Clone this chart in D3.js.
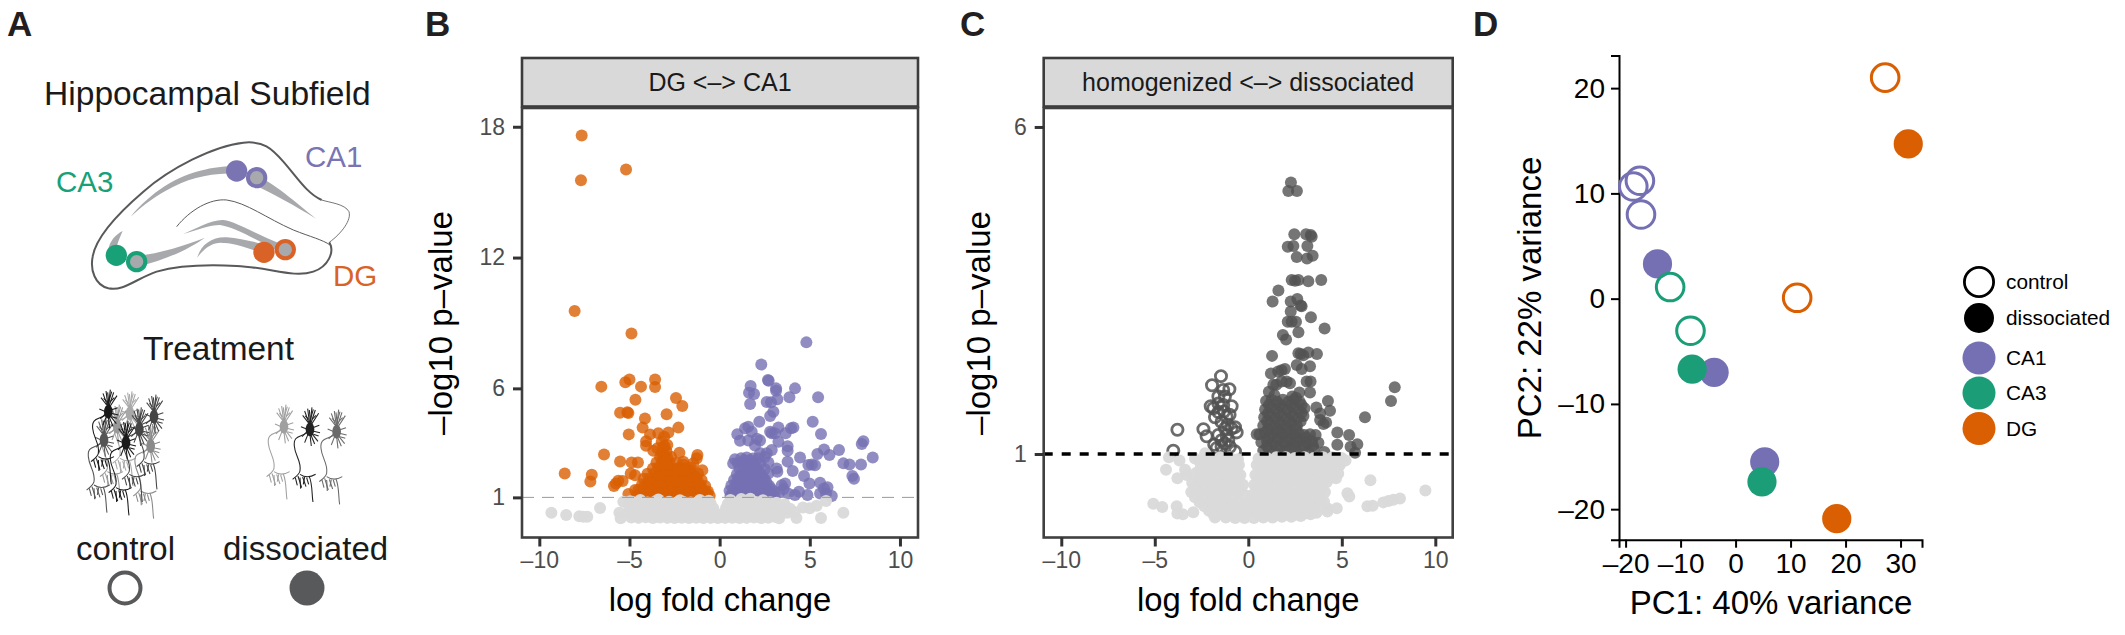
<!DOCTYPE html>
<html><head><meta charset="utf-8">
<script src="https://cdn.jsdelivr.net/npm/d3@7"></script>
<style>html,body{margin:0;padding:0;background:#fff}svg{display:block}text{font-family:"Liberation Sans",Arial,sans-serif}</style>
</head><body><svg id="c" width="2125" height="635"></svg>
<script>
// ---- Panel B values ----
const dgSparse=[[-7.65,17.6],[-7.69,15.55],[-5.19,16.04],[-8.04,9.55],[-4.89,8.52],[-5,6.41],[-5.23,6.28],[-6.56,6.08],[-4.36,6.08],[-3.58,6.41],[-3.58,6.06],[-4.67,5.48],[-2.42,5.56],[-2.07,5.19],[-5.52,4.88],[-5.12,4.91],[-5.06,4.87],[-2.94,4.81],[-4.14,4.62],[-4.27,4.2],[-2.29,4.2],[-5.04,3.89],[-2.84,3.98],[-3.86,3.89],[-3.4,3.94],[-3.08,3.78],[-4.08,3.57],[-4.08,3.37],[-3.21,3.55],[-3.12,3.32],[-3.68,3.14],[-3.45,3.25],[-3.21,3.02],[-6.41,2.97],[-5.52,2.65],[-2.23,3.05],[-1.23,2.94],[-1.27,2.79],[-4.88,2.6],[-4.53,2.6],[-8.59,2.1],[-7.09,2.04],[-7.17,1.73],[-0.96,2.25],[-1.46,2.56],[-2.01,2.64],[-5.62,1.76],[-5.38,1.75],[-5.86,1.52],[-5.75,1.64],[-4.93,2.1],[-4.69,2.02],[-5.06,1.15],[-4.69,1.34]];
const dgDense=[[-4.6,1.08],[-4.2,1.12],[-3.9,1.06],[-3.6,1.1],[-3.2,1.05],[-2.9,1.13],[-2.6,1.07],[-2.3,1.1],[-2,1.04],[-1.7,1.12],[-1.4,1.08],[-1.1,1.05],[-0.8,1.1],[-0.55,1.08],
[-4.5,1.35],[-4.1,1.38],[-3.8,1.32],[-3.4,1.36],[-3.1,1.3],[-2.7,1.38],[-2.4,1.33],[-2.1,1.37],[-1.8,1.31],[-1.5,1.36],[-1.2,1.33],[-0.9,1.3],[-0.65,1.27],
[-4.3,1.6],[-4,1.62],[-3.7,1.57],[-3.3,1.61],[-3,1.56],[-2.6,1.62],[-2.3,1.58],[-2,1.6],[-1.7,1.57],[-1.4,1.62],[-1.1,1.56],[-0.8,1.52],
[-4.2,1.85],[-3.9,1.87],[-3.5,1.82],[-3.2,1.86],[-2.9,1.83],[-2.5,1.87],[-2.2,1.82],[-1.9,1.86],[-1.6,1.83],[-1.3,1.87],[-1,1.8],
[-4,2.08],[-3.6,2.12],[-3.3,2.07],[-3,2.11],[-2.7,2.06],[-2.4,2.12],[-2.1,2.08],[-1.8,2.11],[-1.5,2.07],[-1.2,2.1],
[-3.7,2.33],[-3.4,2.37],[-3.1,2.32],[-2.8,2.36],[-2.5,2.33],[-2.2,2.37],[-1.9,2.33],[-1.6,2.36],
[-3.5,2.6],[-3.2,2.63],[-3,2.58],[-2.8,2.62],[-2.4,2.58],[-2,2.5],[-3.3,2.85],[-3.1,2.88],[-2.9,2.83],[-2.7,2.86],[-3.15,3.1],[-2.95,3.12],[-3.05,3.35],[-2.9,3.4],
[-4.4,1.2],[-4,1.25],[-3.7,1.2],[-3.3,1.22],[-3,1.45],[-2.8,1.2],[-2.5,1.22],[-2.2,1.22],[-1.9,1.2],[-1.6,1.22],[-1.3,1.2],[-1,1.2],[-0.7,1.18],
[-4.2,1.48],[-3.9,1.5],[-3.5,1.46],[-3.2,1.48],[-2.8,1.5],[-2.5,1.46],[-2.2,1.48],[-1.9,1.46],[-1.6,1.48],[-1.3,1.46],[-1,1.44],
[-3.8,1.72],[-3.4,1.74],[-3.1,1.72],[-2.7,1.75],[-2.4,1.72],[-2.1,1.74],[-1.8,1.72],[-1.5,1.74],[-1.2,1.72],
[-3.4,1.98],[-3.1,1.98],[-2.8,1.97],[-2.3,1.98],[-2,1.97],[-1.7,1.98],[-1.4,1.97],[-3,2.25],[-2.6,2.22],[-2.3,2.24],[-2,2.22],[-1.7,2.24],[-3.1,2.5],[-2.9,2.48],[-3,2.72]];
const ca1Sparse=[[4.81,8.11],[2.31,7.09],[2.68,6.38],[2.72,6.35],[1.72,6.11],[3.13,6],[3.13,5.89],[4.18,6],[1.63,5.8],[1.91,5.74],[3.87,5.59],[5.46,5.59],[3.2,5.5],[2.61,5.37],[2.85,5.36],[1.69,5.28],[2.98,4.93],[2.8,4.73],[5.16,4.47],[2.2,4.47],[5.62,3.91],[3.26,4.21],[4.09,4.21],[3.96,4.17],[3.66,3.94],[2.89,3.94],[2.8,4.01],[3.07,3.94],[3.26,3.55],[3.77,3.35],[3.77,3.14],[2.89,3.17],[2.61,3.02],[2.24,3.02],[7.97,3.58],[7.88,3.45],[6.62,3.17],[5.79,3.2],[5.42,2.99],[6.09,2.94],[4.46,2.83],[8.49,2.83],[3.77,2.64],[6.86,2.56],[7.2,2.51],[7.84,2.51],[4.92,2.48],[5.29,2.47],[5.11,2.51],[3.16,2.33],[3.2,2.18],[4.05,2.21],[4.68,1.98],[4.98,1.64],[7.36,1.98],[7.45,1.86],[5.57,1.67],[5.98,1.46],[5.79,1.41],[6.22,1.06],[5.9,1.18],[5.57,1.18],[4.4,1.26],[4.87,1.11],[4.18,1.11],[3.8,1.18],[3.63,1.64],[3.44,1.56],[0.98,3.9],[1.13,3.6],[1.41,4.17],[1.59,4.24],[1.78,4.01],[2.06,3.69],[2.24,3.61],[1.96,3.38],[1.59,3.61]];
const ca1Dense=[[0.6,1.08],[0.95,1.05],[1.3,1.1],[1.65,1.05],[2,1.09],[2.35,1.04],[2.7,1.1],[3.05,1.06],[0.55,1.3],[0.9,1.33],[1.25,1.28],[1.6,1.34],[1.95,1.29],[2.3,1.33],[2.65,1.3],[3,1.27],[3.3,1.22],[3.55,1.38],[0.65,1.55],[1,1.58],[1.35,1.53],[1.7,1.58],[2.05,1.54],[2.4,1.57],[2.75,1.52],
[0.8,1.8],[1.1,1.83],[1.45,1.78],[1.8,1.83],[2.15,1.79],[2.5,1.82],[0.95,2.05],[1.25,2.08],[1.6,2.03],[1.95,2.08],[2.3,2.04],[2.7,2.1],[1.1,2.3],[1.4,2.33],[1.75,2.28],[2.05,2.33],[2.5,2.3],[0.75,2.55],[1,2.58],[1.3,2.6],[1.6,2.56],[1.9,2.6],[2.25,2.56],[2.7,2.6],[0.85,2.75],[1.2,2.8],[1.5,2.83],[1.85,2.78],[2.15,2.8],[2.5,2.85],
[0.7,1.18],[1.1,1.2],[1.45,1.2],[1.8,1.18],[2.15,1.2],[2.5,1.18],[2.85,1.18],[0.8,1.42],[1.1,1.45],[1.45,1.42],[1.8,1.45],[2.15,1.42],[2.5,1.44],[2.85,1.4],[0.95,1.68],[1.25,1.7],[1.6,1.68],[1.95,1.7],[2.3,1.67],[2.6,1.68],[1.05,1.92],[1.35,1.95],[1.7,1.92],[2.05,1.95],[2.4,1.92],[1.25,2.18],[1.6,2.18],[1.9,2.2],[2.2,2.17],[1.4,2.45],[1.7,2.45],[2,2.45],[1.35,2.7],[1.7,2.7]];
const grayB=[[-9.33,0.3],[-8.51,0.19],[-7.78,0.14],[-7.56,0.11],[-7.34,0.11],[-6.63,0.51],[-5.56,0.3],[-5.49,0.04],[-5.34,0.8],[-4.97,0.82],[6.86,0.3],[5.62,0.05],[4.26,0.05],[5.9,0.83],[5,0.5],[5.38,0.62],[4.62,0.54],[3.3,0.04],
[-4.9,0.08],[-4.5,0.06],[-4.1,0.09],[-3.7,0.05],[-3.3,0.08],[-2.9,0.06],[-2.5,0.05],[-2.1,0.07],[-1.7,0.05],[-1.3,0.07],[-0.9,0.05],[-0.5,0.06],[-0.1,0.05],[0.3,0.06],[0.7,0.07],[1.1,0.05],[1.5,0.06],[1.9,0.08],[2.3,0.05],[2.7,0.07],[3.1,0.1],
[-5,0.32],[-4.6,0.3],[-4.2,0.34],[-3.8,0.29],[-3.4,0.33],[-3,0.3],[-2.6,0.32],[-2.2,0.3],[-1.8,0.33],[-1.4,0.29],[-1,0.32],[-0.6,0.3],[-0.25,0.27],[0.2,0.25],[0.55,0.3],[0.95,0.32],[1.35,0.29],[1.75,0.32],[2.15,0.3],[2.55,0.31],[2.95,0.27],[3.35,0.28],[3.75,0.3],[4.15,0.33],
[-5,0.55],[-4.6,0.58],[-4.2,0.53],[-3.8,0.57],[-3.4,0.54],[-3,0.56],[-2.6,0.53],[-2.2,0.57],[-1.8,0.55],[-1.4,0.53],[-1,0.57],[-0.6,0.54],[-0.35,0.5],[0.35,0.5],[0.7,0.55],[1.1,0.53],[1.5,0.57],[1.9,0.54],[2.3,0.56],[2.7,0.53],[3.1,0.52],[3.5,0.5],[3.9,0.48],
[-4.8,0.78],[-4.4,0.8],[-4,0.76],[-3.6,0.8],[-3.2,0.77],[-2.8,0.8],[-2.4,0.76],[-2,0.79],[-1.6,0.77],[-1.2,0.8],[-0.8,0.76],[-0.5,0.72],[0.45,0.7],[0.8,0.76],[1.2,0.8],[1.6,0.77],[2,0.79],[2.4,0.76],[2.8,0.78],[3.15,0.75],[3.6,0.68],
[-4.4,0.88],[-3.4,0.9],[-2.2,0.87],[-1.1,0.88],[-0.6,0.85],[0.6,0.88],[1.2,0.93],[1.7,0.94],[2.4,0.87],
[-4.7,0.2],[-4.3,0.18],[-3.9,0.2],[-3.5,0.18],[-3.1,0.19],[-2.7,0.18],[-2.3,0.2],[-1.9,0.18],[-1.5,0.19],[-1.1,0.18],[-0.7,0.19],[-0.3,0.17],[0.45,0.18],[0.85,0.19],[1.25,0.18],[1.65,0.19],[2.05,0.18],[2.45,0.19],[2.85,0.18],[3.25,0.2],
[-4.8,0.44],[-4.4,0.43],[-4,0.44],[-3.6,0.43],[-3.2,0.44],[-2.8,0.43],[-2.4,0.44],[-2,0.43],[-1.6,0.44],[-1.2,0.43],[-0.8,0.44],[-0.45,0.42],[0.45,0.41],[0.9,0.43],[1.3,0.44],[1.7,0.43],[2.1,0.44],[2.5,0.43],[2.9,0.42],[3.3,0.41],
[-4.6,0.67],[-4.2,0.67],[-3.8,0.68],[-3.4,0.67],[-3,0.68],[-2.6,0.67],[-2.2,0.68],[-1.8,0.67],[-1.4,0.68],[-1,0.67],[-0.65,0.65],[0.55,0.63],[1,0.66],[1.4,0.67],[1.8,0.66],[2.2,0.67],[2.6,0.66],[3,0.65]];
// ---- Panel C values ----
const upSparse=[[2.28,5.15],[2.14,5.02],[2.6,5.02],[2.46,4.36],[3.09,4.36],[3.34,4.35],[3.39,4.32],[2.11,4.17],[2.41,4.18],[3.16,4.18],[2.59,4.01],[3.14,3.99],[3.44,4.03],[2.32,3.66],[2.5,3.65],[2.68,3.66],[3.21,3.64],[3.9,3.66],[1.61,3.5],[1.3,3.33],[2.27,3.33],[2.62,3.37],[2.85,3.26],[2.8,3.27],[3.35,3.09],[2.27,3.18],[2.11,3.02],[2.32,3.02],[2.55,3.02],[4.08,2.92],[2.68,2.86],[1.85,2.82],[2.02,2.75],[1.27,2.5],[2.68,2.54],[2.94,2.51],[3.21,2.55],[3.67,2.53],[2.8,2.53],[2.59,2.36],[2.86,2.3],[3.3,2.34],[1.21,2.23],[1.78,2.28],[1.96,2.3],[1.6,2.26],[3.12,2.11],[3.33,2.11],[2.23,2.08],[2.05,2.11],[1.78,2.11],[1.34,2.06],[1.5,2.06],[7.83,2.02],[7.63,1.81],[6.24,1.56],[4.26,1.81],[3.64,1.71],[4.37,1.66],[3.84,1.62],[3.84,1.52],[4.16,1.48],[4.02,1.46],[4.76,1.33],[5.39,1.29],[4.76,1.14],[5.83,1.15],[5.47,1.11],[5.71,1.02],[4.07,1.03],[3.3,1.94],[2.73,1.94]];
const upDense=[[0.45,1.3],[0.8,1.05],[1.1,1.08],[1.4,1.04],[1.7,1.08],[2,1.05],[2.3,1.09],[2.6,1.05],[2.9,1.08],[3.2,1.04],[3.5,1.08],[0.7,1.18],[1,1.2],[1.3,1.17],[1.6,1.21],[1.9,1.18],[2.2,1.21],[2.5,1.18],[2.8,1.21],[3.1,1.18],[3.4,1.2],[3.75,1.17],[0.6,1.3],[0.9,1.33],[1.2,1.3],[1.5,1.33],[1.8,1.3],[2.1,1.33],[2.4,1.3],[2.7,1.32],[3,1.29],[3.3,1.3],[3.6,1.29],
[0.8,1.43],[1.1,1.46],[1.4,1.43],[1.7,1.46],[2,1.43],[2.3,1.46],[2.6,1.43],[0.85,1.56],[1.15,1.58],[1.45,1.55],[1.75,1.58],[2.05,1.55],[2.35,1.58],[2.65,1.55],[2.95,1.58],[0.9,1.68],[1.2,1.71],[1.5,1.68],[1.8,1.71],[2.1,1.68],[2.4,1.71],[2.7,1.68],[3,1.7],[0.95,1.81],[1.25,1.83],[1.55,1.8],[1.85,1.83],[2.15,1.8],[2.45,1.83],[2.75,1.8],
[1,1.12],[1.5,1.12],[2,1.12],[2.5,1.12],[3,1.12],[3.45,1.13],[1.05,1.25],[1.55,1.25],[2.05,1.25],[2.55,1.25],[3.05,1.25],[1.05,1.38],[1.55,1.38],[2.05,1.38],[2.55,1.38],[1,1.5],[1.6,1.5],[2.2,1.5],[2.8,1.5],[1.05,1.62],[1.65,1.63],[2.25,1.63],[2.85,1.63],[1.1,1.75],[1.7,1.75],[2.3,1.76],[2.85,1.75],[1.4,1.9],[1.1,1.95],[2.35,1.88],[2.55,1.86]];
const downHollow=[[-1.46,2.19],[-1.94,2.05],[-1.01,1.99],[-1.34,1.98],[-1.6,1.88],[-1.25,1.88],[-2.01,1.73],[-1.6,1.77],[-0.89,1.73],[-1.34,1.75],[-1.78,1.56],[-1.16,1.57],[-1.6,1.64],[-2.4,1.38],[-3.79,1.37],[-2.23,1.27],[-0.71,1.41],[-0.62,1.33],[-1.25,1.39],[-0.89,1.39],[-1.82,1.14],[-4.01,1.05],[-1.43,1.21],[-1.25,1.16],[-1.07,1.21],[-0.71,1.04],[-1.69,1.09],[-0.98,1.11],[-1.87,1.7],[-1.43,1.49],[-1.16,1.29],[-1.6,1.29],[-1.43,1.11],[-1.1,1.45],[-1.3,1.65],[-1,1.6]];
const grayC=[[6.53,0.6],[9.47,0.44],[5.3,0.4],[5.4,0.35],[6.37,0.2],[6.65,0.21],[7.22,0.26],[7.49,0.28],[7.76,0.3],[8.11,0.32],[4.23,0.17],[4.73,0.17],[4.23,0.12],[3.33,0.08],[3.65,0.1],[4.81,0.7],[4.69,0.63],[4.9,0.83],[-4.4,0.76],[-4.24,0.95],[-3.68,0.9],[-3.79,0.63],[-3.29,0.68],[-3.38,0.76],[-5.08,0.24],[-4.6,0.19],[-3.83,0.2],[-3.79,0.09],[-3.5,0.08],[-2.94,0.11],[-1.78,0.03],[-2.85,0.93],[-2.31,1.01],[-2.6,0.88],
[-1.2,0.03],[-0.7,0.02],[-0.2,0.02],[0.3,0.02],[0.8,0.03],[1.3,0.03],[1.8,0.04],[2.3,0.04],[2.8,0.05],
[-2.1,0.13],[-1.6,0.12],[-1.1,0.14],[-0.6,0.12],[-0.1,0.14],[0.1,0.14],[0.5,0.12],[1,0.14],[1.5,0.12],[2,0.14],[2.5,0.12],[3,0.14],[3.5,0.16],
[-2.6,0.26],[-2.1,0.28],[-1.6,0.25],[-1.1,0.28],[-0.55,0.26],[-0.12,0.24],[0.15,0.24],[0.6,0.26],[1.1,0.28],[1.6,0.25],[2.1,0.28],[2.6,0.25],[3.1,0.28],[3.6,0.26],[4.05,0.27],
[-3.05,0.42],[-2.6,0.41],[-2.1,0.43],[-1.6,0.4],[-1.1,0.43],[-0.55,0.41],[-0.22,0.38],[0.25,0.38],[0.6,0.41],[1.1,0.43],[1.6,0.4],[2.1,0.43],[2.6,0.4],[3.1,0.43],[3.6,0.41],[4.1,0.42],
[-3,0.56],[-2.6,0.56],[-2.1,0.57],[-1.6,0.55],[-1.1,0.57],[-0.6,0.55],[-0.28,0.53],[0.32,0.53],[0.7,0.55],[1.2,0.57],[1.7,0.55],[2.2,0.57],[2.7,0.55],[3.2,0.57],[3.7,0.55],[4.2,0.57],
[-2.8,0.71],[-2.3,0.7],[-1.8,0.72],[-1.3,0.7],[-0.8,0.72],[-0.42,0.68],[0.38,0.68],[0.8,0.7],[1.3,0.72],[1.8,0.7],[2.3,0.72],[2.8,0.7],[3.3,0.72],[3.8,0.7],[4.3,0.72],
[-2.4,0.85],[-1.9,0.84],[-1.4,0.86],[-0.9,0.84],[-0.5,0.83],[0.45,0.83],[0.9,0.84],[1.4,0.86],[1.9,0.84],[2.4,0.86],[2.9,0.84],[3.4,0.86],[3.9,0.84],[4.4,0.86],[4.8,0.85],
[-2.1,0.94],[-1.5,0.95],[-1,0.95],[-0.55,0.92],[0.55,0.93],[1,0.94],[1.5,0.95],[2,0.95],[2.5,0.94],[3,0.95],[3.5,0.94],[4,0.95],[4.5,0.95],[5,0.94],
[-1.85,0.07],[-1.35,0.08],[-0.85,0.07],[-0.35,0.07],[0.55,0.07],[1.05,0.08],[1.55,0.07],[2.05,0.08],[2.55,0.08],[3.05,0.09],
[-2.35,0.2],[-1.85,0.2],[-1.35,0.2],[-0.85,0.2],[-0.35,0.19],[0.35,0.19],[0.85,0.2],[1.35,0.2],[1.85,0.2],[2.35,0.2],[2.85,0.2],[3.35,0.21],[3.85,0.21],
[-2.85,0.34],[-2.35,0.34],[-1.85,0.34],[-1.35,0.34],[-0.85,0.34],[0.45,0.33],[0.85,0.34],[1.35,0.34],[1.85,0.34],[2.35,0.34],[2.85,0.34],[3.35,0.34],[3.85,0.34],
[-2.85,0.49],[-2.35,0.49],[-1.85,0.49],[-1.35,0.49],[-0.85,0.49],[-0.45,0.47],[0.45,0.47],[0.95,0.49],[1.45,0.49],[1.95,0.49],[2.45,0.49],[2.95,0.49],[3.45,0.49],[3.95,0.49],
[-2.55,0.63],[-2.05,0.63],[-1.55,0.63],[-1.05,0.63],[-0.55,0.62],[0.55,0.62],[1.05,0.63],[1.55,0.63],[2.05,0.63],[2.55,0.63],[3.05,0.63],[3.55,0.63],[4.05,0.63],[4.45,0.64],
[-2.55,0.78],[-2.05,0.78],[-1.55,0.78],[-1.05,0.78],[-0.6,0.77],[0.6,0.77],[1.05,0.78],[1.55,0.78],[2.05,0.78],[2.55,0.78],[3.05,0.78],[3.55,0.78],[4.05,0.78],[4.55,0.78],
[-1.75,0.9],[-1.25,0.9],[-0.75,0.9],[0.7,0.89],[1.25,0.9],[1.75,0.9],[2.25,0.9],[2.75,0.9],[3.25,0.9],[3.75,0.9],[4.25,0.9],[4.75,0.9],[5.2,0.9]];
// ---- Panel D values ----
const pcaPc1=[27.2,31.4,-17.4,-18.6,-17.2,-14.2,-11.9,-8.2,11.2,-3.9,-7.9,5.3,4.8,18.4];
const pcaPc2=[21,14.7,11.2,10.65,8,3.3,1.1,-3.05,0.08,-7,-6.7,-15.5,-17.4,-20.9];
const pcaRegion=["DG","DG","CA1","CA1","CA1","CA1","CA3","CA3","DG","CA1","CA3","CA1","CA3","DG"];
const pcaTreat=["control","dissociated","control","control","control","dissociated","control","control","control","dissociated","dissociated","dissociated","dissociated","dissociated"];
const xTicks=[-10,-5,0,5,10], yTicksB=[1,6,12,18], yTicksC=[1,6];
const pcXTicks=[-20,-10,0,10,20,30], pcYTicks=[-20,-10,0,10,20];
const legendTreat=["control","dissociated"], legendRegion=["CA1","CA3","DG"];
const regionColor={CA1:"#7570b3",CA3:"#1b9e77",DG:"#d95f02"};
const fmt=d=>String(d).replace("-","–");
const svg=d3.select("#c");

function label(g,x,y,t,size,opts={}){
  const s=g.append("text").attr("x",x).attr("y",y).attr("font-size",size).attr("fill",opts.fill||"#1a1a1a").attr("text-anchor",opts.anchor||"start").attr("font-weight",opts.weight||"normal").text(t);
  if(opts.rot)s.attr("transform",`rotate(-90 ${x} ${y})`);
  return s;
}
function volcano(o){
  const g=svg.append("g");
  const x=d3.scaleLinear().domain(o.xd).range([o.l,o.r]);
  const y=d3.scaleLinear().domain(o.yd).range([537.5,108]);
  g.append("rect").attr("x",o.l).attr("y",58).attr("width",o.r-o.l).attr("height",48.5).attr("fill","#d9d9d9").attr("stroke","#3c3c3c").attr("stroke-width",2.6);
  g.append("rect").attr("x",o.l).attr("y",108).attr("width",o.r-o.l).attr("height",429.5).attr("fill","#fff");
  label(g,(o.l+o.r)/2,91,o.strip,25,{anchor:"middle"});
  o.layers.forEach(L=>{
    g.append("g").selectAll("circle").data(L.data).join("circle")
      .attr("cx",d=>x(d[0])).attr("cy",d=>y(d[1])).attr("r",L.hollow?5.6:6)
      .attr("fill",L.hollow?"none":L.color).attr("fill-opacity",L.hollow?null:(L.op||0.8))
      .attr("stroke",L.hollow?L.color:"none").attr("stroke-width",L.hollow?2.8:0).attr("stroke-opacity",0.85);
  });
  g.append("line").attr("x1",o.l).attr("x2",o.r).attr("y1",y(1)).attr("y2",y(1)).attr("stroke",o.lineColor).attr("stroke-width",o.lineW).attr("stroke-dasharray",o.dash);
  g.append("rect").attr("x",o.l).attr("y",108).attr("width",o.r-o.l).attr("height",429.5).attr("fill","none").attr("stroke","#404040").attr("stroke-width",2.6);
  const ax=g.append("g").attr("transform","translate(0,537.5)").call(d3.axisBottom(x).tickValues(xTicks).tickFormat(fmt).tickSize(9).tickPadding(5));
  const ay=g.append("g").attr("transform",`translate(${o.l},0)`).call(d3.axisLeft(y).tickValues(o.yt).tickFormat(d3.format("d")).tickSize(9).tickPadding(8));
  [ax,ay].forEach(a=>{a.select(".domain").remove();a.selectAll("line").attr("stroke","#333").attr("stroke-width",3);a.selectAll("text").attr("font-size",23).attr("fill","#4d4d4d").attr("font-family","Liberation Sans");});
  label(g,(o.l+o.r)/2,611,"log fold change",32.8,{anchor:"middle",fill:"#000"});
  label(g,o.yx,323,"–log10 p–value",33,{anchor:"middle",fill:"#000",rot:true});
}
volcano({l:522,r:918,xd:[-10.96,11],yd:[-0.84,18.86],yt:yTicksB,strip:"DG <–> CA1",yx:452,lineColor:"#999",lineW:1,dash:"12 8",
  layers:[{data:dgSparse.concat(dgDense),color:"#d95f02"},{data:ca1Sparse.concat(ca1Dense),color:"#7570b3"},{data:grayB,color:"#dadada",op:0.97}]});
volcano({l:1043.7,r:1452.7,xd:[-10.94,10.93],yd:[-0.277,6.29],yt:yTicksC,strip:"homogenized <–> dissociated",yx:990,lineColor:"#000",lineW:3.6,dash:"9 9",
  layers:[{data:downHollow,color:"#525252",hollow:true},{data:upSparse.concat(upDense),color:"#525252"},{data:grayC,color:"#dadada",op:0.97}]});

// Panel D
(function(){
  const g=svg.append("g");
  const x=d3.scaleLinear().domain([-21.2,33.9]).range([1619,1922]);
  const y=d3.scaleLinear().domain([-22.9,23.1]).range([539.7,55.5]);
  const pts=pcaPc1.map((p,i)=>({x:p,y:pcaPc2[i],r:pcaRegion[i],t:pcaTreat[i]}));
  const ax=g.append("g").attr("transform","translate(0,539.7)").call(d3.axisBottom(x).tickValues(pcXTicks).tickFormat(fmt).tickSize(8).tickPadding(5));
  const ay=g.append("g").attr("transform","translate(1619,0)").call(d3.axisLeft(y).tickValues(pcYTicks).tickFormat(fmt).tickSize(8).tickPadding(6));
  [ax,ay].forEach(a=>{a.select(".domain").attr("stroke","#000").attr("stroke-width",2);a.selectAll("line").attr("stroke","#000").attr("stroke-width",2);a.selectAll("text").attr("font-size",28).attr("fill","#000").attr("font-family","Liberation Sans");});
  g.append("g").selectAll("circle").data(pts).join("circle")
    .attr("cx",d=>x(d.x)).attr("cy",d=>y(d.y))
    .attr("r",d=>d.t==="control"?13.8:14.6)
    .attr("fill",d=>d.t==="control"?"none":regionColor[d.r])
    .attr("stroke",d=>d.t==="control"?regionColor[d.r]:"none").attr("stroke-width",3);
  label(g,1771,613.6,"PC1: 40% variance",33,{anchor:"middle",fill:"#000"});
  label(g,1541,298,"PC2: 22% variance",33,{anchor:"middle",fill:"#000",rot:true});
  const ly=[282,318], lc=[358,393,428.5];
  legendTreat.forEach((t,i)=>{
    g.append("circle").attr("cx",1979).attr("cy",ly[i]).attr("r",i?15:14.6).attr("fill",i?"#000":"none").attr("stroke",i?"none":"#000").attr("stroke-width",2.8);
    label(g,2006,ly[i]+7,t,20.8,{fill:"#000"});
  });
  legendRegion.forEach((t,i)=>{
    g.append("circle").attr("cx",1979).attr("cy",lc[i]).attr("r",16.5).attr("fill",regionColor[t]);
    label(g,2006,lc[i]+7,t,20.8,{fill:"#000"});
  });
})();

// Panel letters
[["A",7,36],["B",425,36],["C",960,36],["D",1473,36]].forEach(d=>label(svg,d[1],d[2],d[0],35,{weight:"bold",fill:"#231f20"}));

// Panel A illustration (outline traced in a local 3x coordinate frame)
(function(){
  const g=svg.append("g");
  label(g,44,105,"Hippocampal Subfield",33.6);
  label(g,143,360,"Treatment",33.4);
  label(g,76,560,"control",33);
  label(g,223,560,"dissociated",33);
  label(g,305,167,"CA1",29.5,{fill:"#7a74b3"});
  label(g,56,192,"CA3",29.5,{fill:"#18a077"});
  label(g,333,286,"DG",29.5,{fill:"#d96327"});
  g.append("circle").attr("cx",125).attr("cy",588).attr("r",15.5).attr("fill","none").attr("stroke","#58595b").attr("stroke-width",4);
  g.append("circle").attr("cx",307).attr("cy",588).attr("r",17.5).attr("fill","#58595b");
  const h=g.append("g").attr("transform","translate(80,130) scale(0.3333)");
  h.append("path").attr("d","M748,337 C765,365 745,410 700,425 C640,445 570,412 470,408 C380,403 300,405 230,425 C170,445 130,485 85,475 C45,465 30,420 38,380 C48,320 120,245 190,185 C270,115 400,48 490,38 C550,32 575,55 610,95 C650,140 680,190 725,210").attr("fill","none").attr("stroke","#58595b").attr("stroke-width",6);
  h.append("path").attr("d","M725,210 C750,218 795,222 807,245 C815,270 785,310 748,337").attr("fill","none").attr("stroke","#58595b").attr("stroke-width",2.5);
  h.append("path").attr("d","M290,290 C330,240 390,205 440,210 C500,218 560,265 640,300 C690,320 730,330 750,345").attr("fill","none").attr("stroke","#58595b").attr("stroke-width",3);
  const bands=["M152,260 C210,190 290,135 380,118 C400,112 440,108 470,108 L470,130 C400,130 340,140 280,170 C230,195 190,225 152,260Z",
    "M500,125 C560,140 640,210 708,266 C640,225 570,185 510,160Z",
    "M85,360 C88,335 105,315 128,303 C118,325 110,345 105,370Z",
    "M170,378 C240,370 320,345 375,323 C330,355 260,390 170,410Z",
    "M310,312 C350,295 395,268 430,270 C470,275 520,310 610,345 L600,365 C520,325 460,290 420,285 C390,285 350,300 310,312Z",
    "M352,383 C362,345 395,320 440,322 C480,325 520,335 560,345 L560,375 C510,355 460,338 420,338 C390,340 368,360 352,383Z"];
  h.append("g").selectAll("path").data(bands).join("path").attr("d",d=>d).attr("fill","#a8a9ad");
  const fills=[[470,123,"#7a74b3"],[109,376,"#18a077"],[552,367,"#d96327"]];
  const rings=[[530,143,"#7a74b3"],[170,395,"#18a077"],[616,359,"#d96327"]];
  h.selectAll(null).data(rings).join("circle").attr("cx",d=>d[0]).attr("cy",d=>d[1]).attr("r",26).attr("fill","#a8a9ad").attr("stroke",d=>d[2]).attr("stroke-width",12);
  h.selectAll(null).data(fills).join("circle").attr("cx",d=>d[0]).attr("cy",d=>d[1]).attr("r",32).attr("fill",d=>d[2]);
  // neurons
  const n=g.append("g").attr("transform","translate(80,370) scale(0.3333)");
  const tree=["M0,-10 L-16,-55","M0,-10 L-7,-62","M0,-10 L6,-66","M0,-10 L16,-58","M0,-8 L26,-48","M-5,-20 L-22,-42","M-4,-30 L-14,-40","M6,-30 L18,-42","M2,-20 L-2,-58","M-3,-15 L10,-60",
    "M-8,0 L-27,-8","M8,-5 L28,-12","M8,5 L30,10","M5,12 L24,36","M-5,12 L-16,40","M0,15 L4,50","M-8,6 L-24,22","M10,15 L26,20","M2,15 L14,44",
    "M-8,10 C-30,25 -50,18 -47,50 C-45,80 -25,95 -30,125 C-32,135 -40,140 -52,150",
    "M-30,135 C-15,145 0,145 17,135","M-36,140 L-25,175","M-22,143 L-12,172","M-10,145 L-4,165","M-2,142 C8,165 5,195 9,218","M-44,145 L-38,168","M-30,145 L-28,178","M-16,143 L-20,165"];
  const neurons=[[612,170,"#a0a0a0"],[690,178,"#222"],[770,185,"#6a6a6a"],[150,130,"#a8a8a8"],[112,170,"#999"],[212,228,"#8a8a8a"],[222,140,"#444"],[178,178,"#444"],[72,210,"#555"],[85,125,"#1a1a1a"],[138,218,"#1a1a1a"]];
  neurons.forEach(d=>{
    const u=n.append("g").attr("transform",`translate(${d[0]},${d[1]})`);
    u.selectAll("path").data(tree).join("path").attr("d",s=>s).attr("fill","none").attr("stroke",d[2]).attr("stroke-width",3.2);
    u.append("ellipse").attr("rx",13).attr("ry",21).attr("fill",d[2]);
  });
})();
</script></body></html>
